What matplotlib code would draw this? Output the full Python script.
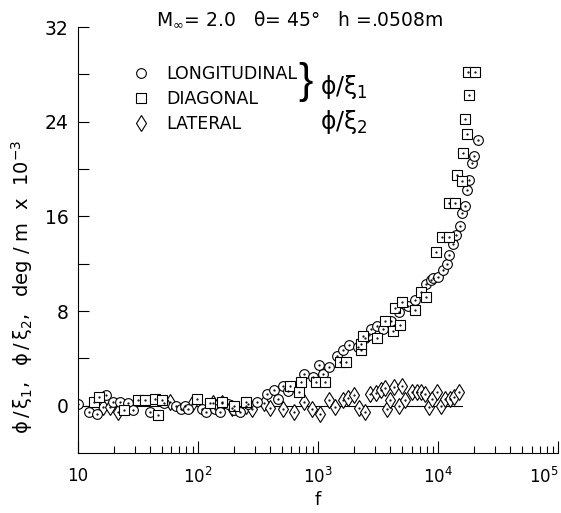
import matplotlib
matplotlib.use("Agg")
import matplotlib.pyplot as plt
from matplotlib.lines import Line2D

plt.rcParams['font.family'] = ['DejaVu Sans']
plt.rcParams['mathtext.default'] = 'regular'

# longitudinal (circles)
long_f = [10, 12.3, 14.5, 17.0, 19.5, 22.4, 26.3, 28.8, 39.8, 52.5, 66.1, 72.4, 77.6, 83.2,
          107, 117, 138, 151, 178, 200, 224, 263, 309, 372, 427, 468, 513, 562,
          759, 912, 1023, 1096, 1230, 1445, 1622, 1820, 2138, 2455, 2630, 2754, 3090,
          3467, 4074, 4677, 5623, 6457, 7943, 8710, 9120, 10000, 10960, 11750, 12300,
          13180, 14130, 15140, 15850, 16600, 17380, 18200, 19050, 19950, 21380]
long_y = [0.1, -0.5, -0.7, 0.9, 0.3, 0.3, 0.2, -0.4, -0.5, 0.2, 0.0, -0.3, 0.0, -0.3,
          -0.3, -0.5, -0.3, -0.5, 0.1, -0.4, -0.5, 0.1, 0.3, 1.0, 1.3, 0.6, 1.7, 1.2,
          2.7, 2.4, 3.4, 2.7, 3.3, 4.2, 4.7, 5.1, 5.0, 5.7, 6.0, 6.5, 6.7,
          6.5, 7.2, 7.9, 8.4, 8.9, 10.3, 10.6, 10.8, 10.9, 11.5, 12.0, 12.7,
          13.7, 14.4, 15.2, 16.3, 16.9, 18.2, 19.1, 20.5, 21.1, 22.5]

# diagonal (squares)
diag_f = [13.5, 15.1, 24.0, 31.6, 36.3, 43.7, 46.8, 50.1, 97.7, 126, 158, 200, 251,
          589, 692, 724, 955, 1148, 1514, 1698, 2291, 2291, 2344, 3090, 3631, 4169,
          4365, 4786, 5012, 6457, 7244, 7943, 9550, 10720, 12300, 12300, 13800,
          14450, 15850, 16220, 17380, 16790, 18200, 17780, 20420]
diag_y = [0.3, 0.7, -0.4, 0.45, 0.45, 0.6, -0.8, 0.45, 0.6, 0.2, 0.3, 0.0, 0.3,
          1.7, 1.15, 2.0, 2.0, 2.0, 3.7, 3.7, 4.7, 5.2, 5.9, 5.7, 7.2, 6.3,
          8.3, 6.8, 8.8, 8.1, 9.6, 9.2, 13.0, 14.3, 14.3, 17.1, 17.1,
          19.5, 19.0, 21.4, 23.0, 24.2, 26.3, 28.2, 28.2]

# lateral (diamonds)
lat_f = [16.2, 18.6, 21.4, 58.9, 89.1, 132, 158, 191, 251, 282, 355, 398, 513, 631,
         759, 891, 1047, 1230, 1380, 1622, 1778, 1995, 2188, 2455, 2692, 3020, 3311,
         3631, 3715, 3981, 4266, 4677, 5012, 5248, 6026, 6607, 7244, 7762, 8318,
         8913, 9772, 10470, 11480, 12590, 13490, 14790]
lat_y = [-0.1, -0.1, -0.5, 0.3, 0.1, 0.2, 0.2, -0.2, 0.0, -0.3, 0.2, -0.2, -0.25, -0.5,
         0.3, -0.25, -0.7, 0.45, -0.1, 0.45, 0.65, 0.9, -0.2, -0.5, 1.0, 1.1, 1.3,
         1.5, -0.25, 0.45, 1.6, 0.0, 1.7, 0.45, 1.15, 1.15, 1.15, 1.0, -0.1,
         0.6, 1.15, 0.0, 0.6, 0.6, 0.7, 1.15]

zero_f = [10, 15800]
zero_y = [0, 0]

fig = plt.figure(figsize=(5.61, 5.13), dpi=100)
ax = fig.add_axes([0.139, 0.117, 0.856, 0.830])

mk = dict(linestyle='none', markerfacecolor='white', markeredgecolor='black',
          markeredgewidth=0.8)
ax.plot(zero_f, zero_y, color='black', linewidth=0.8, zorder=1)
ax.plot(lat_f, lat_y, marker='d', markersize=8, **mk)
ax.plot(long_f, long_y, marker='o', markersize=7, **mk)
ax.plot(diag_f, diag_y, marker='s', markersize=6.5, **mk)
# center dots inside the symbols
for fs, ys in [(lat_f, lat_y), (long_f, long_y), (diag_f, diag_y)]:
    ax.plot(fs, ys, linestyle='none', marker='.', markersize=1.2, color='black')

ax.set_xscale('log')
ax.set_xlim(10, 1e5)
ax.set_ylim(-4, 32)
ax.set_xticks([10, 100, 1000, 10000, 100000])
ax.set_xticklabels(['10', '$10^2$', '$10^3$', '$10^4$', '$10^5$'])
ax.get_xticklabels()[-1].set_ha('right')
ax.set_yticks([0, 8, 16, 24, 32])
ax.set_yticks([4, 12, 20, 28], minor=True)

for s in ['top', 'right']:
    ax.spines[s].set_visible(False)
for s in ['left', 'bottom']:
    ax.spines[s].set_linewidth(0.8)

ax.tick_params(axis='x', which='major', direction='in', length=9, width=0.8,
               labelsize=12, pad=10)
ax.tick_params(axis='x', which='minor', direction='in', length=5, width=0.8)
ax.tick_params(axis='y', which='both', direction='in', length=8, width=0.8,
               labelsize=13.5, pad=7)

ax.set_xlabel('f', fontsize=13, labelpad=3)
ax.set_ylabel(r'$\phi\,/\,\xi_1,\ \ \phi\,/\,\xi_2,$  deg / m  x  $10^{-3}$', fontsize=14)
ax.yaxis.set_label_coords(-0.09, 0.39)

handles = [Line2D([], [], marker='o', markersize=7, **mk),
           Line2D([], [], marker='s', markersize=6.5, **mk),
           Line2D([], [], marker='d', markersize=8, **mk)]
ax.legend(handles, ['LONGITUDINAL', 'DIAGONAL', 'LATERAL'], loc='upper left',
          bbox_to_anchor=(0.098, 0.928), frameon=False, fontsize=12.5,
          handlelength=1.0, handletextpad=1.0, labelspacing=0.42, borderaxespad=0)

fig.text(0.532, 0.840, '}', fontsize=31, family='Liberation Sans', ha='left',
         va='center')
fig.text(0.57, 0.830, r'$\phi/\xi_1$', fontsize=17, ha='left', va='center')
fig.text(0.57, 0.762, r'$\phi/\xi_2$', fontsize=17, ha='left', va='center')

fig.text(0.535, 0.962, r'M$_\infty$= 2.0   $\theta$= 45°   h =.0508m', fontsize=13.5,
         ha='center', va='center')

fig.savefig('out.png', dpi=100)
